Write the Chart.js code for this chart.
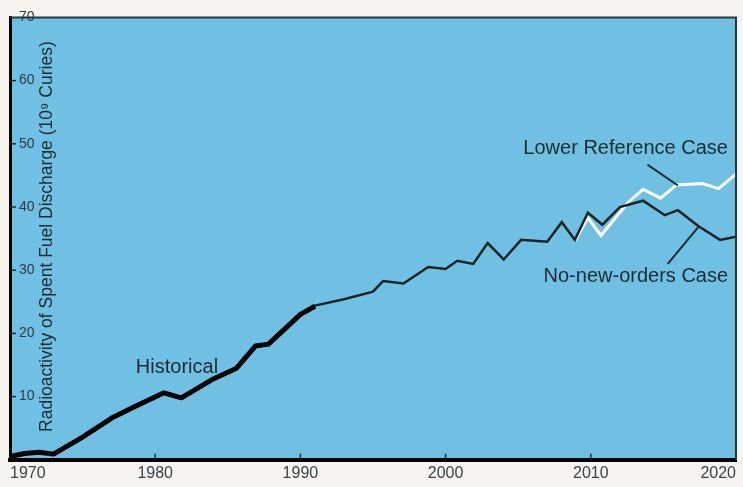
<!DOCTYPE html>
<html>
<head>
<meta charset="utf-8">
<script src="https://cdn.jsdelivr.net/npm/chart.js@4/dist/chart.umd.min.js"></script>
<style>
  html, body { margin: 0; padding: 0; background: #f7f4ef; }
  #wrap { width: 743px; height: 487px; }
</style>
</head>
<body>
<div id="wrap"><canvas id="chart" width="743" height="487"></canvas></div>
<script>
// historical discharge (thick line)
const histYears = [1970, 1971, 1972, 1973, 1975, 1977, 1978.5, 1980.6, 1981.8, 1984, 1985.6, 1986.9, 1987.8, 1990, 1991];
const histValues = [0.5, 1.0, 1.2, 0.9, 3.6, 6.6, 8.3, 10.6, 9.8, 12.8, 14.5, 18.0, 18.3, 23.0, 24.3];

// projection, no-new-orders case
const noNewYears = [1990, 1991, 1993, 1995, 1995.7, 1997.1, 1998.8, 2000, 2000.8, 2001.9, 2002.9, 2004, 2005.2, 2007, 2008, 2008.9, 2009.8, 2010.8, 2012, 2013.6, 2015.1, 2016, 2017.4, 2018.9, 2020];
const noNewValues = [23.0, 24.4, 25.4, 26.6, 28.3, 27.9, 30.5, 30.2, 31.5, 31.0, 34.3, 31.7, 34.8, 34.5, 37.6, 34.8, 39.1, 37.2, 40.0, 41.0, 38.7, 39.5, 37.0, 34.8, 35.3];

// projection, lower reference case (white)
const lowerYears = [2008.9, 2009.8, 2010.7, 2012.6, 2013.6, 2014.8, 2015.9, 2017.7, 2018.8, 2020];
const lowerValues = [34.6, 38.3, 35.5, 40.8, 42.8, 41.4, 43.5, 43.7, 42.9, 45.2];

const xTicks = [1970, 1980, 1990, 2000, 2010, 2020];
const yTicks = [0, 10, 20, 30, 40, 50, 60, 70];

const yTitle = "Radioactivity of Spent Fuel Discharge (10\u2079 Curies)";

// labels: text, anchor year/value, pointer line (year,value -> year,value)
const notes = [
  { text: "Historical", x: 1981.5, y: 14.6, line: null },
  { text: "Lower Reference Case", x: 2012.4, y: 49.3, line: [2013.9, 46.7, 2016.0, 43.4] },
  { text: "No-new-orders Case", x: 2013.1, y: 29.0, line: [2015.3, 31.0, 2017.4, 36.8] }
];

const toPts = (xs, ys) => xs.map((x, i) => ({ x, y: ys[i] }));

const ink = "#1d2b30";
const font = '"Liberation Sans", Arial, Helvetica, sans-serif';

const decor = {
  id: "decor",
  beforeDraw(chart) {
    const { ctx, chartArea: a } = chart;
    ctx.save();
    ctx.fillStyle = "#f7f4ef";
    ctx.fillRect(0, 0, chart.width, chart.height);
    ctx.fillStyle = "#6fc0e2";
    ctx.fillRect(a.left, a.top, a.right - a.left, a.bottom - a.top);
    ctx.restore();
  },
  afterDraw(chart) {
    const { ctx, chartArea: a, scales: { x, y } } = chart;
    ctx.save();
    // top and right frame
    ctx.strokeStyle = "#233a3c";
    ctx.lineWidth = 2;
    ctx.beginPath();
    ctx.moveTo(a.left, a.top);
    ctx.lineTo(a.right, a.top);
    ctx.lineTo(a.right, a.bottom);
    ctx.stroke();

    // small inside tick marks
    ctx.strokeStyle = ink;
    ctx.lineWidth = 1.5;
    yTicks.slice(1, -1).forEach(v => {
      const py = y.getPixelForValue(v);
      ctx.beginPath();
      ctx.moveTo(a.left, py);
      ctx.lineTo(a.left + 6, py);
      ctx.stroke();
    });
    xTicks.slice(1, -1).forEach(v => {
      const px = x.getPixelForValue(v);
      ctx.beginPath();
      ctx.moveTo(px, a.bottom);
      ctx.lineTo(px, a.bottom - 6);
      ctx.stroke();
    });

    // y title inside plot
    ctx.fillStyle = ink;
    ctx.font = "17.5px " + font;
    ctx.textAlign = "center";
    ctx.textBaseline = "middle";
    ctx.translate(a.left + 37, (a.top + a.bottom) / 2 - 2);
    ctx.rotate(-Math.PI / 2);
    ctx.fillText(yTitle, 0, 0);
    ctx.restore();

    // annotations
    ctx.save();
    ctx.fillStyle = ink;
    ctx.strokeStyle = ink;
    ctx.lineWidth = 2;
    ctx.font = "20px " + font;
    ctx.textAlign = "center";
    ctx.textBaseline = "middle";
    notes.forEach(n => {
      ctx.fillText(n.text, x.getPixelForValue(n.x), y.getPixelForValue(n.y));
      if (n.line) {
        ctx.beginPath();
        ctx.moveTo(x.getPixelForValue(n.line[0]), y.getPixelForValue(n.line[1]));
        ctx.lineTo(x.getPixelForValue(n.line[2]), y.getPixelForValue(n.line[3]));
        ctx.stroke();
      }
    });
    ctx.restore();
  }
};

new Chart(document.getElementById("chart"), {
  type: "line",
  data: {
    datasets: [
      {
        label: "Lower Reference Case",
        data: toPts(lowerYears, lowerValues),
        borderColor: "#ffffff",
        borderWidth: 3,
        pointRadius: 0,
        tension: 0,
        order: 3
      },
      {
        label: "No-new-orders Case",
        data: toPts(noNewYears, noNewValues),
        borderColor: "#1a2326",
        borderWidth: 2.5,
        pointRadius: 0,
        tension: 0,
        order: 2
      },
      {
        label: "Historical",
        data: toPts(histYears, histValues),
        borderColor: "#000000",
        borderWidth: 5,
        borderJoinStyle: "round",
        pointRadius: 0,
        tension: 0,
        order: 1
      }
    ]
  },
  options: {
    responsive: false,
    devicePixelRatio: 1,
    animation: false,
    layout: { padding: { left: 10, top: 13, right: 7, bottom: 0 } },
    plugins: { legend: { display: false }, tooltip: { enabled: false } },
    scales: {
      x: {
        type: "linear",
        min: 1970,
        max: 2020,
        afterBuildTicks: s => { s.ticks = xTicks.map(v => ({ value: v })); },
        ticks: {
          align: "inner",
          color: "#3a4449",
          padding: 4,
          font: { family: font, size: 16 },
          callback: v => String(v)
        },
        grid: { drawOnChartArea: false, drawTicks: false },
        border: { display: true, color: "#000000", width: 4 }
      },
      y: {
        min: 0,
        max: 70,
        afterBuildTicks: s => { s.ticks = yTicks.map(v => ({ value: v })); },
        afterFit: s => { s.width = 0; },
        ticks: {
          mirror: true,
          padding: 9,
          color: "#2b3a44",
          font: { family: font, size: 14 },
          callback: v => (v === 0 ? "" : String(v))
        },
        grid: { drawOnChartArea: false, drawTicks: false },
        border: { display: true, color: "#000000", width: 3 }
      }
    }
  },
  plugins: [decor]
});
</script>
</body>
</html>
